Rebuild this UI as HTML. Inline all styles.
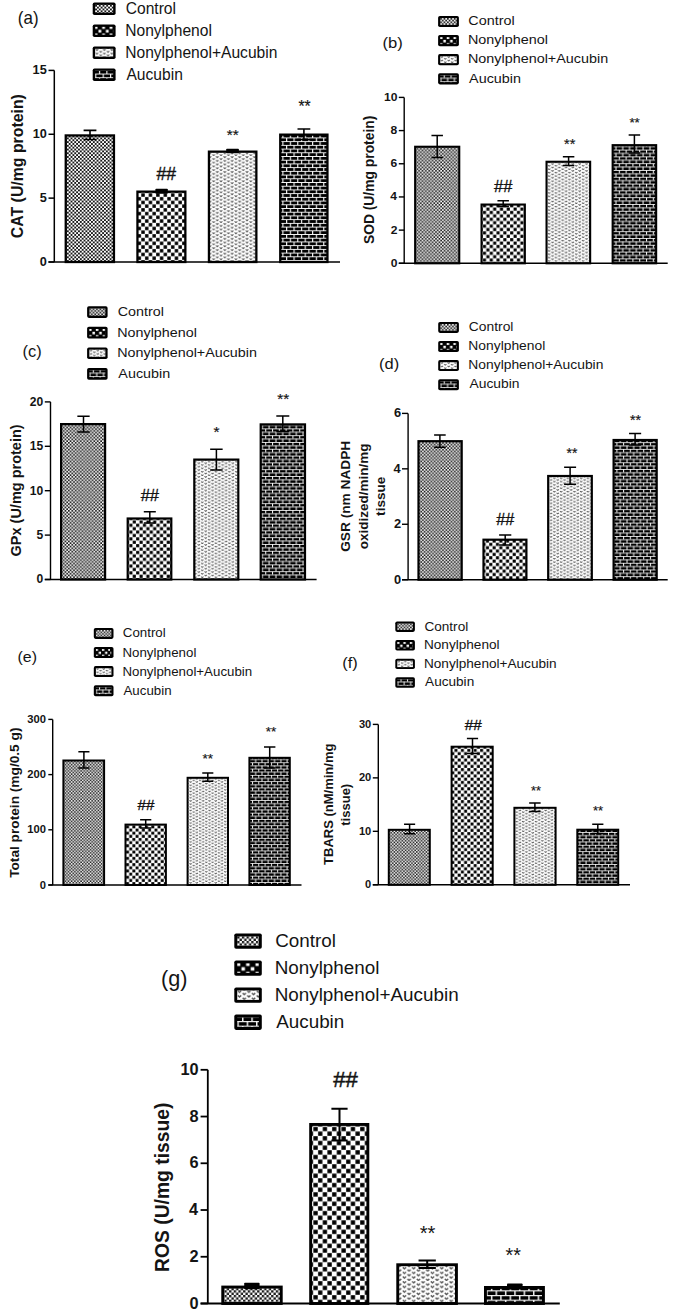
<!DOCTYPE html><html><head><meta charset="utf-8"><style>html,body{margin:0;padding:0;background:#fff;}svg{display:block;}text{font-family:"Liberation Sans",sans-serif;}</style></head><body>
<svg width="673" height="1316" viewBox="0 0 673 1316">
<rect width="673" height="1316" fill="#fff"/>
<defs>
<pattern id="pc_a" patternUnits="userSpaceOnUse" width="7.430" height="7.430" patternTransform="translate(0 0)"><rect width="7.430" height="7.430" fill="#fff"/><g transform="scale(0.9287)" fill="#1a1a1a"><rect x="0" y="0" width="2" height="2"/><rect x="4" y="0" width="2" height="2"/><rect x="2" y="2" width="2" height="2"/><rect x="6" y="2" width="2" height="2"/><rect x="0" y="4" width="2" height="2"/><rect x="4" y="4" width="2" height="2"/><rect x="2" y="6" width="2" height="2"/><rect x="6" y="6" width="2" height="2"/></g></pattern>
<pattern id="pn_a" patternUnits="userSpaceOnUse" width="7.430" height="7.430"><rect width="7.430" height="7.430" fill="#fff"/><g transform="scale(0.9287)" fill="#000"><rect x="0.16" y="0.16" width="3.68" height="3.68"/><rect x="4.16" y="4.16" width="3.68" height="3.68"/></g></pattern>
<pattern id="pnl_a" patternUnits="userSpaceOnUse" width="7.430" height="7.430"><rect width="7.430" height="7.430" fill="#000"/><g transform="scale(0.9287)" fill="#fff"><rect x="4.5" y="0.5" width="3" height="3"/><rect x="0.5" y="4.5" width="3" height="3"/></g></pattern>
<pattern id="pv_a" patternUnits="userSpaceOnUse" width="7.430" height="7.430"><rect width="7.430" height="7.430" fill="#fff"/><g transform="scale(0.9287)" fill="none" stroke="#555" stroke-width="1.15"><path d="M0.6 0.3 L2 1.6 L3.4 0.3"/><path d="M4.6 2.3 L6 3.6 L7.4 2.3"/><path d="M0.6 4.3 L2 5.6 L3.4 4.3"/><path d="M4.6 6.3 L6 7.6 L7.4 6.3"/></g></pattern>
<pattern id="pb_a" patternUnits="userSpaceOnUse" width="7.430" height="7.430"><rect width="7.430" height="7.430" fill="#000"/><g transform="scale(0.9287)" fill="#f4f4f4"><rect x="0" y="0" width="8" height="1.0"/><rect x="0" y="4" width="8" height="1.0"/><rect x="0" y="0" width="1.25" height="4"/><rect x="4" y="4" width="1.25" height="4"/></g></pattern>
<pattern id="pc_b" patternUnits="userSpaceOnUse" width="6.800" height="6.800" patternTransform="translate(0 0)"><rect width="6.800" height="6.800" fill="#fff"/><g transform="scale(0.8500)" fill="#1a1a1a"><rect x="0" y="0" width="2" height="2"/><rect x="4" y="0" width="2" height="2"/><rect x="2" y="2" width="2" height="2"/><rect x="6" y="2" width="2" height="2"/><rect x="0" y="4" width="2" height="2"/><rect x="4" y="4" width="2" height="2"/><rect x="2" y="6" width="2" height="2"/><rect x="6" y="6" width="2" height="2"/></g></pattern>
<pattern id="pn_b" patternUnits="userSpaceOnUse" width="6.800" height="6.800"><rect width="6.800" height="6.800" fill="#fff"/><g transform="scale(0.8500)" fill="#000"><rect x="0.16" y="0.16" width="3.68" height="3.68"/><rect x="4.16" y="4.16" width="3.68" height="3.68"/></g></pattern>
<pattern id="pnl_b" patternUnits="userSpaceOnUse" width="6.800" height="6.800"><rect width="6.800" height="6.800" fill="#000"/><g transform="scale(0.8500)" fill="#fff"><rect x="4.5" y="0.5" width="3" height="3"/><rect x="0.5" y="4.5" width="3" height="3"/></g></pattern>
<pattern id="pv_b" patternUnits="userSpaceOnUse" width="6.800" height="6.800"><rect width="6.800" height="6.800" fill="#fff"/><g transform="scale(0.8500)" fill="none" stroke="#555" stroke-width="1.15"><path d="M0.6 0.3 L2 1.6 L3.4 0.3"/><path d="M4.6 2.3 L6 3.6 L7.4 2.3"/><path d="M0.6 4.3 L2 5.6 L3.4 4.3"/><path d="M4.6 6.3 L6 7.6 L7.4 6.3"/></g></pattern>
<pattern id="pb_b" patternUnits="userSpaceOnUse" width="6.800" height="6.800"><rect width="6.800" height="6.800" fill="#000"/><g transform="scale(0.8500)" fill="#f4f4f4"><rect x="0" y="0" width="8" height="1.0"/><rect x="0" y="4" width="8" height="1.0"/><rect x="0" y="0" width="1.25" height="4"/><rect x="4" y="4" width="1.25" height="4"/></g></pattern>
<pattern id="pc_c" patternUnits="userSpaceOnUse" width="6.800" height="6.800" patternTransform="translate(0 0)"><rect width="6.800" height="6.800" fill="#fff"/><g transform="scale(0.8500)" fill="#1a1a1a"><rect x="0" y="0" width="2" height="2"/><rect x="4" y="0" width="2" height="2"/><rect x="2" y="2" width="2" height="2"/><rect x="6" y="2" width="2" height="2"/><rect x="0" y="4" width="2" height="2"/><rect x="4" y="4" width="2" height="2"/><rect x="2" y="6" width="2" height="2"/><rect x="6" y="6" width="2" height="2"/></g></pattern>
<pattern id="pn_c" patternUnits="userSpaceOnUse" width="6.800" height="6.800"><rect width="6.800" height="6.800" fill="#fff"/><g transform="scale(0.8500)" fill="#000"><rect x="0.16" y="0.16" width="3.68" height="3.68"/><rect x="4.16" y="4.16" width="3.68" height="3.68"/></g></pattern>
<pattern id="pnl_c" patternUnits="userSpaceOnUse" width="6.800" height="6.800"><rect width="6.800" height="6.800" fill="#000"/><g transform="scale(0.8500)" fill="#fff"><rect x="4.5" y="0.5" width="3" height="3"/><rect x="0.5" y="4.5" width="3" height="3"/></g></pattern>
<pattern id="pv_c" patternUnits="userSpaceOnUse" width="6.800" height="6.800"><rect width="6.800" height="6.800" fill="#fff"/><g transform="scale(0.8500)" fill="none" stroke="#555" stroke-width="1.15"><path d="M0.6 0.3 L2 1.6 L3.4 0.3"/><path d="M4.6 2.3 L6 3.6 L7.4 2.3"/><path d="M0.6 4.3 L2 5.6 L3.4 4.3"/><path d="M4.6 6.3 L6 7.6 L7.4 6.3"/></g></pattern>
<pattern id="pb_c" patternUnits="userSpaceOnUse" width="6.800" height="6.800"><rect width="6.800" height="6.800" fill="#000"/><g transform="scale(0.8500)" fill="#f4f4f4"><rect x="0" y="0" width="8" height="1.0"/><rect x="0" y="4" width="8" height="1.0"/><rect x="0" y="0" width="1.25" height="4"/><rect x="4" y="4" width="1.25" height="4"/></g></pattern>
<pattern id="pc_d" patternUnits="userSpaceOnUse" width="6.700" height="6.700" patternTransform="translate(0 0)"><rect width="6.700" height="6.700" fill="#fff"/><g transform="scale(0.8375)" fill="#1a1a1a"><rect x="0" y="0" width="2" height="2"/><rect x="4" y="0" width="2" height="2"/><rect x="2" y="2" width="2" height="2"/><rect x="6" y="2" width="2" height="2"/><rect x="0" y="4" width="2" height="2"/><rect x="4" y="4" width="2" height="2"/><rect x="2" y="6" width="2" height="2"/><rect x="6" y="6" width="2" height="2"/></g></pattern>
<pattern id="pn_d" patternUnits="userSpaceOnUse" width="6.700" height="6.700"><rect width="6.700" height="6.700" fill="#fff"/><g transform="scale(0.8375)" fill="#000"><rect x="0.16" y="0.16" width="3.68" height="3.68"/><rect x="4.16" y="4.16" width="3.68" height="3.68"/></g></pattern>
<pattern id="pnl_d" patternUnits="userSpaceOnUse" width="6.700" height="6.700"><rect width="6.700" height="6.700" fill="#000"/><g transform="scale(0.8375)" fill="#fff"><rect x="4.5" y="0.5" width="3" height="3"/><rect x="0.5" y="4.5" width="3" height="3"/></g></pattern>
<pattern id="pv_d" patternUnits="userSpaceOnUse" width="6.700" height="6.700"><rect width="6.700" height="6.700" fill="#fff"/><g transform="scale(0.8375)" fill="none" stroke="#555" stroke-width="1.15"><path d="M0.6 0.3 L2 1.6 L3.4 0.3"/><path d="M4.6 2.3 L6 3.6 L7.4 2.3"/><path d="M0.6 4.3 L2 5.6 L3.4 4.3"/><path d="M4.6 6.3 L6 7.6 L7.4 6.3"/></g></pattern>
<pattern id="pb_d" patternUnits="userSpaceOnUse" width="6.700" height="6.700"><rect width="6.700" height="6.700" fill="#000"/><g transform="scale(0.8375)" fill="#f4f4f4"><rect x="0" y="0" width="8" height="1.0"/><rect x="0" y="4" width="8" height="1.0"/><rect x="0" y="0" width="1.25" height="4"/><rect x="4" y="4" width="1.25" height="4"/></g></pattern>
<pattern id="pc_e" patternUnits="userSpaceOnUse" width="6.300" height="6.300" patternTransform="translate(0 0)"><rect width="6.300" height="6.300" fill="#fff"/><g transform="scale(0.7875)" fill="#1a1a1a"><rect x="0" y="0" width="2" height="2"/><rect x="4" y="0" width="2" height="2"/><rect x="2" y="2" width="2" height="2"/><rect x="6" y="2" width="2" height="2"/><rect x="0" y="4" width="2" height="2"/><rect x="4" y="4" width="2" height="2"/><rect x="2" y="6" width="2" height="2"/><rect x="6" y="6" width="2" height="2"/></g></pattern>
<pattern id="pn_e" patternUnits="userSpaceOnUse" width="6.300" height="6.300"><rect width="6.300" height="6.300" fill="#fff"/><g transform="scale(0.7875)" fill="#000"><rect x="0.16" y="0.16" width="3.68" height="3.68"/><rect x="4.16" y="4.16" width="3.68" height="3.68"/></g></pattern>
<pattern id="pnl_e" patternUnits="userSpaceOnUse" width="6.300" height="6.300"><rect width="6.300" height="6.300" fill="#000"/><g transform="scale(0.7875)" fill="#fff"><rect x="4.5" y="0.5" width="3" height="3"/><rect x="0.5" y="4.5" width="3" height="3"/></g></pattern>
<pattern id="pv_e" patternUnits="userSpaceOnUse" width="6.300" height="6.300"><rect width="6.300" height="6.300" fill="#fff"/><g transform="scale(0.7875)" fill="none" stroke="#555" stroke-width="1.15"><path d="M0.6 0.3 L2 1.6 L3.4 0.3"/><path d="M4.6 2.3 L6 3.6 L7.4 2.3"/><path d="M0.6 4.3 L2 5.6 L3.4 4.3"/><path d="M4.6 6.3 L6 7.6 L7.4 6.3"/></g></pattern>
<pattern id="pb_e" patternUnits="userSpaceOnUse" width="6.300" height="6.300"><rect width="6.300" height="6.300" fill="#000"/><g transform="scale(0.7875)" fill="#f4f4f4"><rect x="0" y="0" width="8" height="1.0"/><rect x="0" y="4" width="8" height="1.0"/><rect x="0" y="0" width="1.25" height="4"/><rect x="4" y="4" width="1.25" height="4"/></g></pattern>
<pattern id="pc_f" patternUnits="userSpaceOnUse" width="6.400" height="6.400" patternTransform="translate(0 0)"><rect width="6.400" height="6.400" fill="#fff"/><g transform="scale(0.8000)" fill="#1a1a1a"><rect x="0" y="0" width="2" height="2"/><rect x="4" y="0" width="2" height="2"/><rect x="2" y="2" width="2" height="2"/><rect x="6" y="2" width="2" height="2"/><rect x="0" y="4" width="2" height="2"/><rect x="4" y="4" width="2" height="2"/><rect x="2" y="6" width="2" height="2"/><rect x="6" y="6" width="2" height="2"/></g></pattern>
<pattern id="pn_f" patternUnits="userSpaceOnUse" width="6.400" height="6.400"><rect width="6.400" height="6.400" fill="#fff"/><g transform="scale(0.8000)" fill="#000"><rect x="0.16" y="0.16" width="3.68" height="3.68"/><rect x="4.16" y="4.16" width="3.68" height="3.68"/></g></pattern>
<pattern id="pnl_f" patternUnits="userSpaceOnUse" width="6.400" height="6.400"><rect width="6.400" height="6.400" fill="#000"/><g transform="scale(0.8000)" fill="#fff"><rect x="4.5" y="0.5" width="3" height="3"/><rect x="0.5" y="4.5" width="3" height="3"/></g></pattern>
<pattern id="pv_f" patternUnits="userSpaceOnUse" width="6.400" height="6.400"><rect width="6.400" height="6.400" fill="#fff"/><g transform="scale(0.8000)" fill="none" stroke="#555" stroke-width="1.15"><path d="M0.6 0.3 L2 1.6 L3.4 0.3"/><path d="M4.6 2.3 L6 3.6 L7.4 2.3"/><path d="M0.6 4.3 L2 5.6 L3.4 4.3"/><path d="M4.6 6.3 L6 7.6 L7.4 6.3"/></g></pattern>
<pattern id="pb_f" patternUnits="userSpaceOnUse" width="6.400" height="6.400"><rect width="6.400" height="6.400" fill="#000"/><g transform="scale(0.8000)" fill="#f4f4f4"><rect x="0" y="0" width="8" height="1.0"/><rect x="0" y="4" width="8" height="1.0"/><rect x="0" y="0" width="1.25" height="4"/><rect x="4" y="4" width="1.25" height="4"/></g></pattern>
<pattern id="pc_g" patternUnits="userSpaceOnUse" width="9.350" height="9.350" patternTransform="translate(0 0)"><rect width="9.350" height="9.350" fill="#fff"/><g transform="scale(1.1687)" fill="#1a1a1a"><rect x="0" y="0" width="2" height="2"/><rect x="4" y="0" width="2" height="2"/><rect x="2" y="2" width="2" height="2"/><rect x="6" y="2" width="2" height="2"/><rect x="0" y="4" width="2" height="2"/><rect x="4" y="4" width="2" height="2"/><rect x="2" y="6" width="2" height="2"/><rect x="6" y="6" width="2" height="2"/></g></pattern>
<pattern id="pn_g" patternUnits="userSpaceOnUse" width="9.350" height="9.350"><rect width="9.350" height="9.350" fill="#fff"/><g transform="scale(1.1687)" fill="#000"><rect x="0.16" y="0.16" width="3.68" height="3.68"/><rect x="4.16" y="4.16" width="3.68" height="3.68"/></g></pattern>
<pattern id="pnl_g" patternUnits="userSpaceOnUse" width="9.350" height="9.350"><rect width="9.350" height="9.350" fill="#000"/><g transform="scale(1.1687)" fill="#fff"><rect x="4.5" y="0.5" width="3" height="3"/><rect x="0.5" y="4.5" width="3" height="3"/></g></pattern>
<pattern id="pv_g" patternUnits="userSpaceOnUse" width="9.350" height="9.350"><rect width="9.350" height="9.350" fill="#fff"/><g transform="scale(1.1687)" fill="none" stroke="#555" stroke-width="1.15"><path d="M0.6 0.3 L2 1.6 L3.4 0.3"/><path d="M4.6 2.3 L6 3.6 L7.4 2.3"/><path d="M0.6 4.3 L2 5.6 L3.4 4.3"/><path d="M4.6 6.3 L6 7.6 L7.4 6.3"/></g></pattern>
<pattern id="pb_g" patternUnits="userSpaceOnUse" width="9.350" height="9.350"><rect width="9.350" height="9.350" fill="#000"/><g transform="scale(1.1687)" fill="#f4f4f4"><rect x="0" y="0" width="8" height="1.0"/><rect x="0" y="4" width="8" height="1.0"/><rect x="0" y="0" width="1.25" height="4"/><rect x="4" y="4" width="1.25" height="4"/></g></pattern>
</defs>
<rect x="65.75" y="135.45" width="48.20" height="126.55" fill="url(#pc_a)" stroke="#000" stroke-width="2.3"/>
<rect x="137.45" y="191.65" width="47.90" height="70.35" fill="url(#pn_a)" stroke="#000" stroke-width="2.3"/>
<rect x="208.95" y="151.65" width="47.40" height="110.35" fill="url(#pv_a)" stroke="#000" stroke-width="2.3"/>
<rect x="280.25" y="134.65" width="47.20" height="127.35" fill="url(#pb_a)" stroke="#000" stroke-width="2.3"/>
<path d="M90.00 130.40 V139.50 M83.60 130.40 H96.40 M83.60 139.50 H96.40" stroke="#000" stroke-width="1.6" fill="none"/>
<path d="M303.90 129.00 V139.50 M297.50 129.00 H310.30 M297.50 139.50 H310.30" stroke="#000" stroke-width="1.6" fill="none"/>
<rect x="155.40" y="188.80" width="12.40" height="5.00" rx="0.8" fill="#000"/>
<rect x="226.20" y="148.80" width="12.70" height="4.50" rx="0.8" fill="#000"/>
<path d="M54.30 70.40 V262.00" stroke="#000" stroke-width="1.5" fill="none"/>
<path d="M48.50 262.00 H340.00" stroke="#000" stroke-width="1.5" fill="none"/>
<path d="M48.50 262.00 H54.30" stroke="#000" stroke-width="1.5" fill="none"/>
<text transform="translate(39.84 266.04) scale(1.010 1)" font-size="12.60" font-weight="bold" fill="#141414">0</text>
<path d="M48.50 198.13 H54.30" stroke="#000" stroke-width="1.5" fill="none"/>
<text transform="translate(39.68 202.11) scale(1.010 1)" font-size="12.60" font-weight="bold" fill="#141414">5</text>
<path d="M48.50 134.27 H54.30" stroke="#000" stroke-width="1.5" fill="none"/>
<text transform="translate(32.77 138.30) scale(1.010 1)" font-size="12.60" font-weight="bold" fill="#141414">10</text>
<path d="M48.50 70.40 H54.30" stroke="#000" stroke-width="1.5" fill="none"/>
<text transform="translate(32.60 74.37) scale(1.010 1)" font-size="12.60" font-weight="bold" fill="#141414">15</text>
<defs><pattern id="lpc_a" href="#pc_a" patternTransform="translate(95.11 4.81)"/></defs>
<rect x="92.70" y="2.40" width="22.90" height="12.70" rx="1.8" fill="#000"/>
<rect x="95.11" y="4.81" width="18.07" height="7.87" fill="url(#lpc_a)"/>
<text transform="translate(125.71 14.01) scale(1.000 1)" font-size="15.60" fill="#141414">Control</text>
<defs><pattern id="lpn_a" href="#pnl_a" patternTransform="translate(98.01 25.62)"/></defs>
<rect x="92.70" y="24.40" width="22.90" height="12.70" rx="1.8" fill="#000"/>
<rect x="95.11" y="26.81" width="18.07" height="7.87" fill="url(#lpn_a)"/>
<text transform="translate(125.22 36.01) scale(1.000 1)" font-size="15.60" fill="#141414">Nonylphenol</text>
<defs><pattern id="lpv_a" href="#pv_a" patternTransform="translate(95.11 48.81)"/></defs>
<rect x="92.70" y="46.40" width="22.90" height="12.70" rx="1.8" fill="#000"/>
<rect x="95.11" y="48.81" width="18.07" height="7.87" fill="url(#lpv_a)"/>
<text transform="translate(125.22 58.01) scale(1.000 1)" font-size="15.60" fill="#141414">Nonylphenol+Aucubin</text>
<defs><pattern id="lpb_a" href="#pb_a" patternTransform="translate(98.90 69.85)"/></defs>
<rect x="92.70" y="68.40" width="22.90" height="12.70" rx="1.8" fill="#000"/>
<rect x="95.11" y="70.81" width="18.07" height="7.87" fill="url(#lpb_a)"/>
<text transform="translate(126.47 80.01) scale(1.000 1)" font-size="15.60" fill="#141414">Aucubin</text>
<text transform="translate(17.85 23.54) scale(0.934 1)" font-size="18.14" font-weight="normal" fill="#141414">(a)</text>
<rect x="415.15" y="146.75" width="44.10" height="116.55" fill="url(#pc_b)" stroke="#000" stroke-width="2.1"/>
<rect x="481.55" y="204.55" width="43.30" height="58.75" fill="url(#pn_b)" stroke="#000" stroke-width="2.1"/>
<rect x="546.55" y="161.75" width="43.60" height="101.55" fill="url(#pv_b)" stroke="#000" stroke-width="2.1"/>
<rect x="612.65" y="145.15" width="43.50" height="118.15" fill="url(#pb_b)" stroke="#000" stroke-width="2.1"/>
<path d="M437.20 135.50 V157.60 M431.45 135.50 H442.95 M431.45 157.60 H442.95" stroke="#000" stroke-width="1.5" fill="none"/>
<path d="M503.20 200.80 V206.50 M497.45 200.80 H508.95 M497.45 206.50 H508.95" stroke="#000" stroke-width="1.5" fill="none"/>
<path d="M568.60 156.80 V165.50 M562.85 156.80 H574.35 M562.85 165.50 H574.35" stroke="#000" stroke-width="1.5" fill="none"/>
<path d="M634.40 135.00 V153.00 M628.65 135.00 H640.15 M628.65 153.00 H640.15" stroke="#000" stroke-width="1.5" fill="none"/>
<path d="M404.20 97.40 V263.30" stroke="#000" stroke-width="1.4" fill="none"/>
<path d="M398.80 263.30 H667.70" stroke="#000" stroke-width="1.4" fill="none"/>
<path d="M398.80 263.30 H404.20" stroke="#000" stroke-width="1.4" fill="none"/>
<text transform="translate(390.67 266.75) scale(1.110 1)" font-size="10.90" font-weight="bold" fill="#141414">0</text>
<path d="M398.80 230.12 H404.20" stroke="#000" stroke-width="1.4" fill="none"/>
<text transform="translate(390.66 233.63) scale(1.110 1)" font-size="10.90" font-weight="bold" fill="#141414">2</text>
<path d="M398.80 196.94 H404.20" stroke="#000" stroke-width="1.4" fill="none"/>
<text transform="translate(390.24 200.39) scale(1.110 1)" font-size="10.90" font-weight="bold" fill="#141414">4</text>
<path d="M398.80 163.76 H404.20" stroke="#000" stroke-width="1.4" fill="none"/>
<text transform="translate(390.61 167.21) scale(1.110 1)" font-size="10.90" font-weight="bold" fill="#141414">6</text>
<path d="M398.80 130.58 H404.20" stroke="#000" stroke-width="1.4" fill="none"/>
<text transform="translate(390.54 134.03) scale(1.110 1)" font-size="10.90" font-weight="bold" fill="#141414">8</text>
<path d="M398.80 97.40 H404.20" stroke="#000" stroke-width="1.4" fill="none"/>
<text transform="translate(383.94 100.85) scale(1.110 1)" font-size="10.90" font-weight="bold" fill="#141414">10</text>
<defs><pattern id="lpc_b" href="#pc_b" patternTransform="translate(440.23 18.03)"/></defs>
<rect x="438.10" y="15.90" width="20.80" height="11.20" rx="1.8" fill="#000"/>
<rect x="440.23" y="18.03" width="16.54" height="6.94" fill="url(#lpc_b)"/>
<text transform="translate(468.37 25.26) scale(1.150 1)" font-size="12.50" fill="#141414">Control</text>
<defs><pattern id="lpn_b" href="#pnl_b" patternTransform="translate(442.88 36.04)"/></defs>
<rect x="438.10" y="35.00" width="20.80" height="11.20" rx="1.8" fill="#000"/>
<rect x="440.23" y="37.13" width="16.54" height="6.94" fill="url(#lpn_b)"/>
<text transform="translate(467.92 44.36) scale(1.150 1)" font-size="12.50" fill="#141414">Nonylphenol</text>
<defs><pattern id="lpv_b" href="#pv_b" patternTransform="translate(440.23 56.23)"/></defs>
<rect x="438.10" y="54.10" width="20.80" height="11.20" rx="1.8" fill="#000"/>
<rect x="440.23" y="56.23" width="16.54" height="6.94" fill="url(#lpv_b)"/>
<text transform="translate(467.92 63.46) scale(1.150 1)" font-size="12.50" fill="#141414">Nonylphenol+Aucubin</text>
<defs><pattern id="lpb_b" href="#pb_b" patternTransform="translate(443.70 74.44)"/></defs>
<rect x="438.10" y="73.20" width="20.80" height="11.20" rx="1.8" fill="#000"/>
<rect x="440.23" y="75.33" width="16.54" height="6.94" fill="url(#lpb_b)"/>
<text transform="translate(469.07 82.56) scale(1.150 1)" font-size="12.50" fill="#141414">Aucubin</text>
<text transform="translate(382.57 48.34) scale(1.093 1)" font-size="15.24" font-weight="normal" fill="#141414">(b)</text>
<rect x="61.10" y="424.10" width="44.00" height="155.40" fill="url(#pc_c)" stroke="#000" stroke-width="2.2"/>
<rect x="127.70" y="518.50" width="43.60" height="61.00" fill="url(#pn_c)" stroke="#000" stroke-width="2.2"/>
<rect x="194.30" y="459.60" width="44.00" height="119.90" fill="url(#pv_c)" stroke="#000" stroke-width="2.2"/>
<rect x="260.70" y="424.40" width="44.30" height="155.10" fill="url(#pb_c)" stroke="#000" stroke-width="2.2"/>
<path d="M83.50 416.20 V431.90 M77.35 416.20 H89.65 M77.35 431.90 H89.65" stroke="#000" stroke-width="1.5" fill="none"/>
<path d="M149.80 511.80 V523.00 M143.80 511.80 H155.80 M143.80 523.00 H155.80" stroke="#000" stroke-width="1.5" fill="none"/>
<path d="M216.40 449.20 V469.90 M210.15 449.20 H222.65 M210.15 469.90 H222.65" stroke="#000" stroke-width="1.5" fill="none"/>
<path d="M282.80 415.90 V431.50 M276.30 415.90 H289.30 M276.30 431.50 H289.30" stroke="#000" stroke-width="1.5" fill="none"/>
<path d="M50.50 401.90 V579.50" stroke="#000" stroke-width="1.4" fill="none"/>
<path d="M44.80 579.50 H316.60" stroke="#000" stroke-width="1.4" fill="none"/>
<path d="M44.80 579.50 H50.50" stroke="#000" stroke-width="1.4" fill="none"/>
<text x="36.57" y="583.37" font-size="12.10" font-weight="bold" fill="#141414">0</text>
<path d="M44.80 535.10 H50.50" stroke="#000" stroke-width="1.4" fill="none"/>
<text x="36.41" y="538.90" font-size="12.10" font-weight="bold" fill="#141414">5</text>
<path d="M44.80 490.70 H50.50" stroke="#000" stroke-width="1.4" fill="none"/>
<text x="29.84" y="494.57" font-size="12.10" font-weight="bold" fill="#141414">10</text>
<path d="M44.80 446.30 H50.50" stroke="#000" stroke-width="1.4" fill="none"/>
<text x="29.68" y="450.10" font-size="12.10" font-weight="bold" fill="#141414">15</text>
<path d="M44.80 401.90 H50.50" stroke="#000" stroke-width="1.4" fill="none"/>
<text x="29.84" y="405.77" font-size="12.10" font-weight="bold" fill="#141414">20</text>
<defs><pattern id="lpc_c" href="#pc_c" patternTransform="translate(89.32 308.42)"/></defs>
<rect x="87.10" y="306.20" width="20.50" height="11.70" rx="1.8" fill="#000"/>
<rect x="89.32" y="308.42" width="16.05" height="7.25" fill="url(#lpc_c)"/>
<text transform="translate(117.67 316.07) scale(1.085 1)" font-size="13.20" fill="#141414">Control</text>
<defs><pattern id="lpn_c" href="#pnl_c" patternTransform="translate(91.98 327.94)"/></defs>
<rect x="87.10" y="326.80" width="20.50" height="11.70" rx="1.8" fill="#000"/>
<rect x="89.32" y="329.02" width="16.05" height="7.25" fill="url(#lpn_c)"/>
<text transform="translate(117.23 336.67) scale(1.085 1)" font-size="13.20" fill="#141414">Nonylphenol</text>
<defs><pattern id="lpv_c" href="#pv_c" patternTransform="translate(89.32 349.62)"/></defs>
<rect x="87.10" y="347.40" width="20.50" height="11.70" rx="1.8" fill="#000"/>
<rect x="89.32" y="349.62" width="16.05" height="7.25" fill="url(#lpv_c)"/>
<text transform="translate(117.23 357.27) scale(1.085 1)" font-size="13.20" fill="#141414">Nonylphenol+Aucubin</text>
<defs><pattern id="lpb_c" href="#pb_c" patternTransform="translate(92.79 369.34)"/></defs>
<rect x="87.10" y="368.00" width="20.50" height="11.70" rx="1.8" fill="#000"/>
<rect x="89.32" y="370.22" width="16.05" height="7.25" fill="url(#lpb_c)"/>
<text transform="translate(118.37 377.87) scale(1.085 1)" font-size="13.20" fill="#141414">Aucubin</text>
<text transform="translate(22.48 357.32) scale(1.006 1)" font-size="16.32" font-weight="normal" fill="#141414">(c)</text>
<rect x="418.50" y="441.20" width="43.20" height="138.50" fill="url(#pc_d)" stroke="#000" stroke-width="2.2"/>
<rect x="483.50" y="539.70" width="42.90" height="40.00" fill="url(#pn_d)" stroke="#000" stroke-width="2.2"/>
<rect x="548.20" y="476.00" width="43.60" height="103.70" fill="url(#pv_d)" stroke="#000" stroke-width="2.2"/>
<rect x="613.60" y="440.00" width="43.10" height="139.70" fill="url(#pb_d)" stroke="#000" stroke-width="2.2"/>
<path d="M439.90 435.00 V447.20 M434.10 435.00 H445.70 M434.10 447.20 H445.70" stroke="#000" stroke-width="1.5" fill="none"/>
<path d="M505.20 534.90 V545.00 M499.10 534.90 H511.30 M499.10 545.00 H511.30" stroke="#000" stroke-width="1.5" fill="none"/>
<path d="M570.10 467.20 V484.30 M564.10 467.20 H576.10 M564.10 484.30 H576.10" stroke="#000" stroke-width="1.5" fill="none"/>
<path d="M635.10 433.50 V445.00 M629.05 433.50 H641.15 M629.05 445.00 H641.15" stroke="#000" stroke-width="1.5" fill="none"/>
<path d="M408.10 413.40 V579.70" stroke="#000" stroke-width="1.4" fill="none"/>
<path d="M402.00 579.70 H667.70" stroke="#000" stroke-width="1.4" fill="none"/>
<path d="M402.00 579.70 H408.10" stroke="#000" stroke-width="1.4" fill="none"/>
<text transform="translate(393.98 583.50) scale(1.080 1)" font-size="11.90" font-weight="bold" fill="#141414">0</text>
<path d="M402.00 524.27 H408.10" stroke="#000" stroke-width="1.4" fill="none"/>
<text transform="translate(393.97 528.12) scale(1.080 1)" font-size="11.90" font-weight="bold" fill="#141414">2</text>
<path d="M402.00 468.83 H408.10" stroke="#000" stroke-width="1.4" fill="none"/>
<text transform="translate(393.52 472.63) scale(1.080 1)" font-size="11.90" font-weight="bold" fill="#141414">4</text>
<path d="M402.00 413.40 H408.10" stroke="#000" stroke-width="1.4" fill="none"/>
<text transform="translate(393.92 417.20) scale(1.080 1)" font-size="11.90" font-weight="bold" fill="#141414">6</text>
<defs><pattern id="lpc_d" href="#pc_d" patternTransform="translate(440.29 323.99)"/></defs>
<rect x="438.20" y="321.90" width="20.70" height="11.00" rx="1.8" fill="#000"/>
<rect x="440.29" y="323.99" width="16.52" height="6.82" fill="url(#lpc_d)"/>
<text transform="translate(468.80 331.08) scale(1.130 1)" font-size="12.25" fill="#141414">Control</text>
<defs><pattern id="lpn_d" href="#pnl_d" patternTransform="translate(442.90 342.02)"/></defs>
<rect x="438.20" y="341.00" width="20.70" height="11.00" rx="1.8" fill="#000"/>
<rect x="440.29" y="343.09" width="16.52" height="6.82" fill="url(#lpn_d)"/>
<text transform="translate(468.36 350.18) scale(1.130 1)" font-size="12.25" fill="#141414">Nonylphenol</text>
<defs><pattern id="lpv_d" href="#pv_d" patternTransform="translate(440.29 362.19)"/></defs>
<rect x="438.20" y="360.10" width="20.70" height="11.00" rx="1.8" fill="#000"/>
<rect x="440.29" y="362.19" width="16.52" height="6.82" fill="url(#lpv_d)"/>
<text transform="translate(468.36 369.28) scale(1.130 1)" font-size="12.25" fill="#141414">Nonylphenol+Aucubin</text>
<defs><pattern id="lpb_d" href="#pb_d" patternTransform="translate(443.71 380.42)"/></defs>
<rect x="438.20" y="379.20" width="20.70" height="11.00" rx="1.8" fill="#000"/>
<rect x="440.29" y="381.29" width="16.52" height="6.82" fill="url(#lpb_d)"/>
<text transform="translate(469.47 388.38) scale(1.130 1)" font-size="12.25" fill="#141414">Aucubin</text>
<text transform="translate(379.08 369.00) scale(1.066 1)" font-size="15.46" font-weight="normal" fill="#141414">(d)</text>
<rect x="63.40" y="760.50" width="40.70" height="124.50" fill="url(#pc_e)" stroke="#000" stroke-width="2.0"/>
<rect x="125.50" y="824.60" width="40.40" height="60.40" fill="url(#pn_e)" stroke="#000" stroke-width="2.0"/>
<rect x="187.60" y="777.80" width="40.40" height="107.20" fill="url(#pv_e)" stroke="#000" stroke-width="2.0"/>
<rect x="249.40" y="757.80" width="40.40" height="127.20" fill="url(#pb_e)" stroke="#000" stroke-width="2.0"/>
<path d="M83.90 751.80 V768.00 M78.35 751.80 H89.45 M78.35 768.00 H89.45" stroke="#000" stroke-width="1.5" fill="none"/>
<path d="M145.70 819.80 V828.10 M140.10 819.80 H151.30 M140.10 828.10 H151.30" stroke="#000" stroke-width="1.5" fill="none"/>
<path d="M207.80 773.00 V781.30 M202.25 773.00 H213.35 M202.25 781.30 H213.35" stroke="#000" stroke-width="1.5" fill="none"/>
<path d="M269.70 746.90 V767.90 M264.00 746.90 H275.40 M264.00 767.90 H275.40" stroke="#000" stroke-width="1.5" fill="none"/>
<path d="M52.70 719.40 V885.00" stroke="#000" stroke-width="1.4" fill="none"/>
<path d="M48.30 885.00 H301.50" stroke="#000" stroke-width="1.4" fill="none"/>
<path d="M48.30 885.00 H52.70" stroke="#000" stroke-width="1.4" fill="none"/>
<text transform="translate(39.82 888.52) scale(1.010 1)" font-size="11.10" font-weight="bold" fill="#141414">0</text>
<path d="M48.30 829.80 H52.70" stroke="#000" stroke-width="1.4" fill="none"/>
<text transform="translate(27.35 833.32) scale(1.010 1)" font-size="11.10" font-weight="bold" fill="#141414">100</text>
<path d="M48.30 774.60 H52.70" stroke="#000" stroke-width="1.4" fill="none"/>
<text transform="translate(27.35 778.12) scale(1.010 1)" font-size="11.10" font-weight="bold" fill="#141414">200</text>
<path d="M48.30 719.40 H52.70" stroke="#000" stroke-width="1.4" fill="none"/>
<text transform="translate(27.35 722.91) scale(1.010 1)" font-size="11.10" font-weight="bold" fill="#141414">300</text>
<defs><pattern id="lpc_e" href="#pc_e" patternTransform="translate(95.89 629.99)"/></defs>
<rect x="93.80" y="627.90" width="19.70" height="11.00" rx="1.8" fill="#000"/>
<rect x="95.89" y="629.99" width="15.52" height="6.82" fill="url(#lpc_e)"/>
<text transform="translate(122.82 637.48) scale(1.040 1)" font-size="12.80" fill="#141414">Control</text>
<defs><pattern id="lpn_e" href="#pnl_e" patternTransform="translate(98.35 648.08)"/></defs>
<rect x="93.80" y="647.00" width="19.70" height="11.00" rx="1.8" fill="#000"/>
<rect x="95.89" y="649.09" width="15.52" height="6.82" fill="url(#lpn_e)"/>
<text transform="translate(122.41 656.58) scale(1.040 1)" font-size="12.80" fill="#141414">Nonylphenol</text>
<defs><pattern id="lpv_e" href="#pv_e" patternTransform="translate(95.89 668.19)"/></defs>
<rect x="93.80" y="666.10" width="19.70" height="11.00" rx="1.8" fill="#000"/>
<rect x="95.89" y="668.19" width="15.52" height="6.82" fill="url(#lpv_e)"/>
<text transform="translate(122.41 675.68) scale(1.040 1)" font-size="12.80" fill="#141414">Nonylphenol+Aucubin</text>
<defs><pattern id="lpb_e" href="#pb_e" patternTransform="translate(99.10 686.47)"/></defs>
<rect x="93.80" y="685.20" width="19.70" height="11.00" rx="1.8" fill="#000"/>
<rect x="95.89" y="687.29" width="15.52" height="6.82" fill="url(#lpb_e)"/>
<text transform="translate(123.47 694.78) scale(1.040 1)" font-size="12.80" fill="#141414">Aucubin</text>
<text transform="translate(17.51 662.12) scale(1.038 1)" font-size="15.35" font-weight="normal" fill="#141414">(e)</text>
<rect x="388.80" y="829.80" width="41.00" height="55.00" fill="url(#pc_f)" stroke="#000" stroke-width="2.0"/>
<rect x="451.60" y="746.70" width="41.10" height="138.10" fill="url(#pn_f)" stroke="#000" stroke-width="2.0"/>
<rect x="514.40" y="807.80" width="41.20" height="77.00" fill="url(#pv_f)" stroke="#000" stroke-width="2.0"/>
<rect x="577.30" y="829.70" width="40.90" height="55.10" fill="url(#pb_f)" stroke="#000" stroke-width="2.0"/>
<path d="M409.60 824.30 V833.70 M404.05 824.30 H415.15 M404.05 833.70 H415.15" stroke="#000" stroke-width="1.5" fill="none"/>
<path d="M472.50 738.50 V753.50 M466.90 738.50 H478.10 M466.90 753.50 H478.10" stroke="#000" stroke-width="1.5" fill="none"/>
<path d="M534.90 802.90 V811.60 M529.15 802.90 H540.65 M529.15 811.60 H540.65" stroke="#000" stroke-width="1.5" fill="none"/>
<path d="M597.80 824.30 V833.50 M592.20 824.30 H603.40 M592.20 833.50 H603.40" stroke="#000" stroke-width="1.5" fill="none"/>
<path d="M378.30 724.40 V884.80" stroke="#000" stroke-width="1.4" fill="none"/>
<path d="M372.80 884.80 H630.00" stroke="#000" stroke-width="1.4" fill="none"/>
<path d="M372.80 884.80 H378.30" stroke="#000" stroke-width="1.4" fill="none"/>
<text transform="translate(365.07 888.25) scale(1.020 1)" font-size="10.90" font-weight="bold" fill="#141414">0</text>
<path d="M372.80 831.33 H378.30" stroke="#000" stroke-width="1.4" fill="none"/>
<text transform="translate(358.89 834.79) scale(1.020 1)" font-size="10.90" font-weight="bold" fill="#141414">10</text>
<path d="M372.80 777.87 H378.30" stroke="#000" stroke-width="1.4" fill="none"/>
<text transform="translate(358.89 781.32) scale(1.020 1)" font-size="10.90" font-weight="bold" fill="#141414">20</text>
<path d="M372.80 724.40 H378.30" stroke="#000" stroke-width="1.4" fill="none"/>
<text transform="translate(358.89 727.84) scale(1.020 1)" font-size="10.90" font-weight="bold" fill="#141414">30</text>
<defs><pattern id="lpc_f" href="#pc_f" patternTransform="translate(397.28 623.48)"/></defs>
<rect x="395.30" y="621.50" width="19.60" height="10.40" rx="1.8" fill="#000"/>
<rect x="397.28" y="623.48" width="15.65" height="6.45" fill="url(#lpc_f)"/>
<text transform="translate(424.41 630.68) scale(1.110 1)" font-size="12.25" fill="#141414">Control</text>
<defs><pattern id="lpn_f" href="#pnl_f" patternTransform="translate(399.77 641.05)"/></defs>
<rect x="395.30" y="640.10" width="19.60" height="10.40" rx="1.8" fill="#000"/>
<rect x="397.28" y="642.08" width="15.65" height="6.45" fill="url(#lpn_f)"/>
<text transform="translate(423.98 649.28) scale(1.110 1)" font-size="12.25" fill="#141414">Nonylphenol</text>
<defs><pattern id="lpv_f" href="#pv_f" patternTransform="translate(397.28 660.68)"/></defs>
<rect x="395.30" y="658.70" width="19.60" height="10.40" rx="1.8" fill="#000"/>
<rect x="397.28" y="660.68" width="15.65" height="6.45" fill="url(#lpv_f)"/>
<text transform="translate(423.98 667.88) scale(1.110 1)" font-size="12.25" fill="#141414">Nonylphenol+Aucubin</text>
<defs><pattern id="lpb_f" href="#pb_f" patternTransform="translate(400.54 678.44)"/></defs>
<rect x="395.30" y="677.30" width="19.60" height="10.40" rx="1.8" fill="#000"/>
<rect x="397.28" y="679.28" width="15.65" height="6.45" fill="url(#lpb_f)"/>
<text transform="translate(425.07 686.48) scale(1.110 1)" font-size="12.25" fill="#141414">Aucubin</text>
<text transform="translate(342.18 668.03) scale(1.112 1)" font-size="14.81" font-weight="normal" fill="#141414">(f)</text>
<rect x="222.75" y="1287.05" width="58.50" height="16.45" fill="url(#pc_g)" stroke="#000" stroke-width="2.9"/>
<rect x="310.65" y="1124.45" width="57.20" height="179.05" fill="url(#pn_g)" stroke="#000" stroke-width="2.9"/>
<rect x="397.75" y="1264.75" width="58.70" height="38.75" fill="url(#pv_g)" stroke="#000" stroke-width="2.9"/>
<rect x="485.45" y="1287.45" width="58.00" height="16.05" fill="url(#pb_g)" stroke="#000" stroke-width="2.9"/>
<path d="M339.50 1108.80 V1140.40 M331.40 1108.80 H347.60 M331.40 1140.40 H347.60" stroke="#000" stroke-width="2.0" fill="none"/>
<path d="M427.20 1260.50 V1268.00 M418.55 1260.50 H435.85 M418.55 1268.00 H435.85" stroke="#000" stroke-width="2.0" fill="none"/>
<rect x="244.20" y="1282.80" width="15.40" height="6.40" rx="0.8" fill="#000"/>
<rect x="507.00" y="1283.40" width="15.60" height="6.10" rx="0.8" fill="#000"/>
<path d="M207.80 1069.80 V1303.50" stroke="#000" stroke-width="1.8" fill="none"/>
<path d="M200.60 1303.50 H559.80" stroke="#000" stroke-width="1.8" fill="none"/>
<path d="M200.60 1303.50 H207.80" stroke="#000" stroke-width="1.8" fill="none"/>
<text transform="translate(189.59 1308.71) scale(1.020 1)" font-size="16.00" font-weight="bold" fill="#141414">0</text>
<path d="M200.60 1256.76 H207.80" stroke="#000" stroke-width="1.8" fill="none"/>
<text transform="translate(189.58 1262.05) scale(1.020 1)" font-size="16.00" font-weight="bold" fill="#141414">2</text>
<path d="M200.60 1210.02 H207.80" stroke="#000" stroke-width="1.8" fill="none"/>
<text transform="translate(189.01 1215.22) scale(1.020 1)" font-size="16.00" font-weight="bold" fill="#141414">4</text>
<path d="M200.60 1163.28 H207.80" stroke="#000" stroke-width="1.8" fill="none"/>
<text transform="translate(189.51 1168.49) scale(1.020 1)" font-size="16.00" font-weight="bold" fill="#141414">6</text>
<path d="M200.60 1116.54 H207.80" stroke="#000" stroke-width="1.8" fill="none"/>
<text transform="translate(189.43 1121.75) scale(1.020 1)" font-size="16.00" font-weight="bold" fill="#141414">8</text>
<path d="M200.60 1069.80 H207.80" stroke="#000" stroke-width="1.8" fill="none"/>
<text transform="translate(180.52 1075.01) scale(1.020 1)" font-size="16.00" font-weight="bold" fill="#141414">10</text>
<defs><pattern id="lpc_g" href="#pc_g" patternTransform="translate(237.21 936.31)"/></defs>
<rect x="234.30" y="933.40" width="27.50" height="15.30" rx="1.8" fill="#000"/>
<rect x="237.21" y="936.31" width="21.69" height="9.49" fill="url(#lpc_g)"/>
<text transform="translate(275.24 947.11) scale(1.020 1)" font-size="18.50" fill="#141414">Control</text>
<defs><pattern id="lpn_g" href="#pnl_g" patternTransform="translate(240.85 961.88)"/></defs>
<rect x="234.30" y="960.47" width="27.50" height="15.30" rx="1.8" fill="#000"/>
<rect x="237.21" y="963.38" width="21.69" height="9.49" fill="url(#lpn_g)"/>
<text transform="translate(274.65 974.18) scale(1.020 1)" font-size="18.50" fill="#141414">Nonylphenol</text>
<defs><pattern id="lpv_g" href="#pv_g" patternTransform="translate(237.21 990.45)"/></defs>
<rect x="234.30" y="987.54" width="27.50" height="15.30" rx="1.8" fill="#000"/>
<rect x="237.21" y="990.45" width="21.69" height="9.49" fill="url(#lpv_g)"/>
<text transform="translate(274.65 1001.25) scale(1.020 1)" font-size="18.50" fill="#141414">Nonylphenol+Aucubin</text>
<defs><pattern id="lpb_g" href="#pb_g" patternTransform="translate(241.98 1016.30)"/></defs>
<rect x="234.30" y="1014.61" width="27.50" height="15.30" rx="1.8" fill="#000"/>
<rect x="237.21" y="1017.52" width="21.69" height="9.49" fill="url(#lpb_g)"/>
<text transform="translate(276.16 1028.32) scale(1.020 1)" font-size="18.50" fill="#141414">Aucubin</text>
<text transform="translate(160.96 986.49) scale(0.976 1)" font-size="22.21" font-weight="normal" fill="#141414">(g)</text>
<text transform="translate(156.52 179.97) scale(1 1.000)" font-size="17.59" fill="#141414" stroke="#141414" stroke-width="0.39">##</text>
<text transform="translate(226.85 140.09) scale(1 1.000)" font-size="15.40" fill="#141414" stroke="#141414" stroke-width="0.18">**</text>
<text transform="translate(298.45 112.48) scale(1 1.000)" font-size="15.67" fill="#141414" stroke="#141414" stroke-width="0.19">**</text>
<text transform="translate(494.03 192.19) scale(1 1.000)" font-size="16.50" fill="#141414" stroke="#141414" stroke-width="0.36">##</text>
<text transform="translate(564.07 149.31) scale(1 1.000)" font-size="14.47" fill="#141414" stroke="#141414" stroke-width="0.17">**</text>
<text transform="translate(629.38 127.16) scale(1 1.000)" font-size="13.39" fill="#141414" stroke="#141414" stroke-width="0.16">**</text>
<text transform="translate(140.63 500.77) scale(1 1.000)" font-size="16.59" fill="#141414" stroke="#141414" stroke-width="0.36">##</text>
<text transform="translate(213.48 437.44) scale(1 1.000)" font-size="15.50" fill="#141414" stroke="#141414" stroke-width="0.19">*</text>
<text transform="translate(277.25 404.47) scale(1 1.000)" font-size="15.27" fill="#141414" stroke="#141414" stroke-width="0.18">**</text>
<text transform="translate(496.23 525.15) scale(1 1.000)" font-size="16.23" fill="#141414" stroke="#141414" stroke-width="0.36">##</text>
<text transform="translate(566.58 458.14) scale(1 1.000)" font-size="13.93" fill="#141414" stroke="#141414" stroke-width="0.17">**</text>
<text transform="translate(629.97 424.61) scale(1 1.000)" font-size="14.06" fill="#141414" stroke="#141414" stroke-width="0.17">**</text>
<text transform="translate(137.43 809.86) scale(1 1.000)" font-size="15.23" fill="#141414" stroke="#141414" stroke-width="0.34">##</text>
<text transform="translate(202.58 763.13) scale(1 1.000)" font-size="13.53" fill="#141414" stroke="#141414" stroke-width="0.16">**</text>
<text transform="translate(265.68 736.43) scale(1 1.000)" font-size="13.53" fill="#141414" stroke="#141414" stroke-width="0.16">**</text>
<text transform="translate(464.63 729.99) scale(1 1.000)" font-size="15.32" fill="#141414" stroke="#141414" stroke-width="0.34">##</text>
<text transform="translate(530.89 794.79) scale(1 1.000)" font-size="12.86" fill="#141414" stroke="#141414" stroke-width="0.15">**</text>
<text transform="translate(592.89 814.73) scale(1 1.000)" font-size="13.13" fill="#141414" stroke="#141414" stroke-width="0.16">**</text>
<text transform="translate(333.30 1086.80) scale(1 1.037)" font-size="22.12" fill="#141414" stroke="#141414" stroke-width="0.49">##</text>
<text transform="translate(419.67 1240.16) scale(1 1.000)" font-size="20.23" fill="#141414" stroke="#141414" stroke-width="0.00">**</text>
<text transform="translate(505.58 1261.71) scale(1 1.000)" font-size="19.82" fill="#141414" stroke="#141414" stroke-width="0.00">**</text>
<text transform="translate(22.69,238.17) rotate(-90)" x="0" y="0" font-size="15.85" font-weight="bold" fill="#141414">CAT (U/mg protein)</text>
<text transform="translate(374.44,244.10) rotate(-90)" x="0" y="0" font-size="13.85" font-weight="bold" fill="#141414">SOD (U/mg protein)</text>
<text transform="translate(20.81,556.49) rotate(-90)" x="0" y="0" font-size="14.50" font-weight="bold" fill="#141414">GPx (U/mg protein)</text>
<text transform="translate(349.63,551.78) rotate(-90)" x="0" y="0" font-size="13.70" font-weight="bold" fill="#141414">GSR (nm NADPH</text>
<text transform="translate(367.68,549.29) rotate(-90)" x="0" y="0" font-size="13.50" font-weight="bold" fill="#141414">oxidized/min/mg</text>
<text transform="translate(384.95,515.90) rotate(-90)" x="0" y="0" font-size="13.60" font-weight="bold" fill="#141414">tissue</text>
<text transform="translate(19.13,877.87) rotate(-90)" x="0" y="0" font-size="13.70" font-weight="bold" fill="#141414">Total protein (mg/0.5 g)</text>
<text transform="translate(333.32,864.90) rotate(-90)" x="0" y="0" font-size="13.00" font-weight="bold" fill="#141414">TBARS (nM/min/mg</text>
<text transform="translate(349.92,825.71) rotate(-90)" x="0" y="0" font-size="13.00" font-weight="bold" fill="#141414">tissue)</text>
<text transform="translate(169.48,1271.88) rotate(-90)" x="0" y="0" font-size="19.30" font-weight="bold" fill="#141414">ROS (U/mg tissue)</text>
</svg></body></html>
